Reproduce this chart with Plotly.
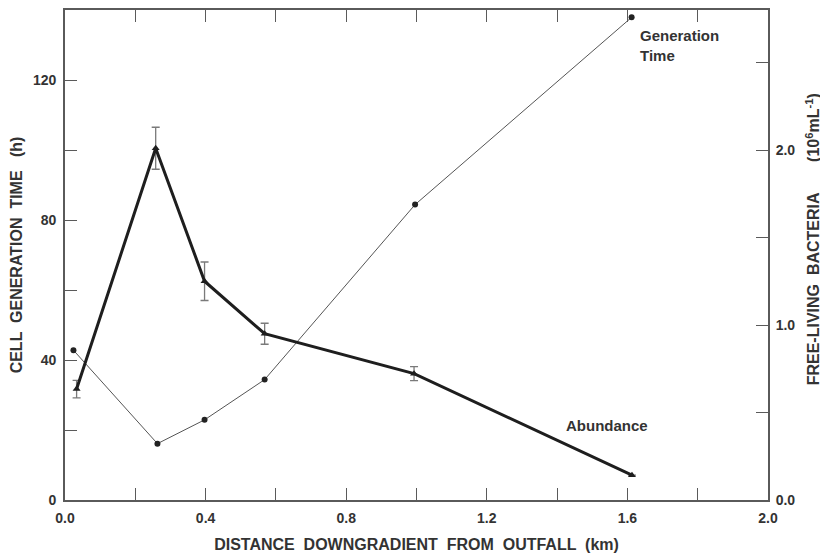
import plotly.graph_objects as go

# Generation time (left axis, h)
gen_x = [0.024, 0.263, 0.397, 0.568, 0.996, 1.612]
gen_y = [42.8, 16.1, 22.9, 34.4, 84.4, 137.9]

# Abundance of free-living bacteria (right axis, 10^6 mL^-1)
abu_x = [0.033, 0.258, 0.397, 0.568, 0.993, 1.613]
abu_y = [0.634, 2.01, 1.25, 0.95, 0.722, 0.142]
abu_err = [0.05, 0.12, 0.11, 0.06, 0.04, 0.0]

x_ticks = [0.0, 0.2, 0.4, 0.6, 0.8, 1.0, 1.2, 1.4, 1.6, 1.8, 2.0]
x_labels = ["0.0", "", "0.4", "", "0.8", "", "1.2", "", "1.6", "", "2.0"]
y1_ticks = [0, 20, 40, 60, 80, 100, 120]
y1_labels = ["0", "", "40", "", "80", "", "120"]
y2_ticks = [0.0, 0.5, 1.0, 1.5, 2.0, 2.5]
y2_labels = ["0.0", "", "1.0", "", "2.0", ""]

FONT = "Liberation Sans, Arial, sans-serif"
AX = "#5a5a5a"
TXT = "#333333"

fig = go.Figure()
fig.add_trace(go.Scatter(
    x=gen_x, y=gen_y, mode="lines+markers",
    line=dict(color="#555555", width=1),
    marker=dict(symbol="circle", size=6, color="#222222"),
    yaxis="y", showlegend=False))
fig.add_trace(go.Scatter(
    x=abu_x, y=abu_y, mode="lines+markers",
    line=dict(color="#1e1e1e", width=3),
    marker=dict(symbol="triangle-up", size=7, color="#1e1e1e"),
    error_y=dict(type="data", array=abu_err, visible=True,
                 color="#7a7a7a", thickness=1.3, width=4),
    yaxis="y2", showlegend=False))

fig.add_annotation(x=1.63, y=129.8, xref="x", yref="y", text="Generation<br>Time",
                   showarrow=False, xanchor="left", yanchor="middle", align="left",
                   font=dict(family=FONT, size=15, color=TXT, weight="bold"))
fig.add_annotation(x=1.542, y=21.3, xref="x", yref="y", text="Abundance",
                   showarrow=False, xanchor="center", yanchor="middle",
                   font=dict(family=FONT, size=15, color=TXT, weight="bold"))

tickfont = dict(family=FONT, size=14, color=TXT, weight="bold")
titlefont = dict(family=FONT, size=16, color=TXT, weight="bold")

# right-axis title as a rotated annotation for exact placement
fig.add_annotation(x=1.064, y=0.532, xref="paper", yref="paper",
                   text="FREE-LIVING  BACTERIA       (10<sup>6</sup>mL<sup>-1</sup>)",
                   textangle=-90, showarrow=False, xanchor="center", yanchor="middle",
                   font=titlefont)

fig.update_layout(
    width=828, height=554,
    margin=dict(l=57, r=68, t=0, b=62),
    paper_bgcolor="white", plot_bgcolor="white",
    font=dict(family=FONT, size=14, color=TXT),
    xaxis=dict(range=[0, 2.0], tickmode="array", tickvals=x_ticks, ticktext=x_labels,
               ticks="inside", ticklen=12, tickcolor=AX, tickwidth=1.3,
               showline=True, linecolor=AX, linewidth=1.8, mirror="ticks",
               showgrid=False, zeroline=False, tickfont=tickfont, ticklabelstandoff=4,
               title=dict(text="DISTANCE  DOWNGRADIENT  FROM  OUTFALL  (km)",
                          font=titlefont, standoff=14)),
    yaxis=dict(range=[0, 140], tickmode="array", tickvals=y1_ticks, ticktext=y1_labels,
               ticks="inside", ticklen=12, tickcolor=AX, tickwidth=1.3,
               showline=True, linecolor=AX, linewidth=1.8,
               showgrid=False, zeroline=False, tickfont=tickfont, ticklabelstandoff=4,
               title=dict(text="CELL  GENERATION  TIME   (h)", font=titlefont, standoff=8)),
    yaxis2=dict(range=[0, 2.8], overlaying="y", side="right",
                tickmode="array", tickvals=y2_ticks, ticktext=y2_labels,
                ticks="inside", ticklen=12, tickcolor=AX, tickwidth=1.3,
                showline=True, linecolor=AX, linewidth=1.8,
                showgrid=False, zeroline=False, tickfont=tickfont, ticklabelstandoff=3),
)

fig.write_html("out.html")
